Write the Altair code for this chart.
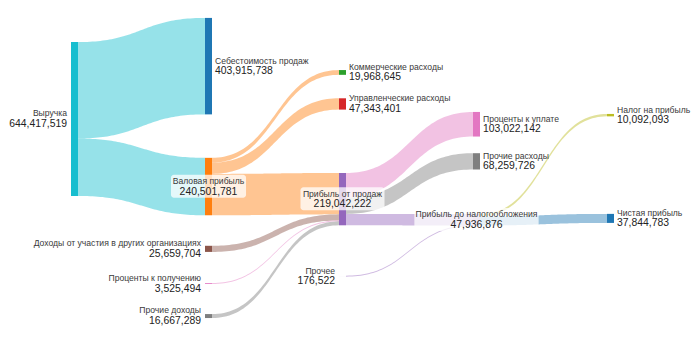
import altair as alt
import pandas as pd
import numpy as np

# ------------------------------------------------------------------ data
node_names = [
    "Выручка", "Себестоимость продаж", "Валовая прибыль",
    "Коммерческие расходы", "Управленческие расходы", "Прибыль от продаж",
    "Доходы от участия в других организациях", "Проценты к получению",
    "Прочие доходы", "Проценты к уплате", "Прочие расходы", "Прочее",
    "Прибыль до налогообложения", "Налог на прибыль", "Чистая прибыль",
]
link_source = [
    "Выручка", "Выручка",
    "Валовая прибыль", "Валовая прибыль", "Валовая прибыль",
    "Доходы от участия в других организациях", "Проценты к получению", "Прочие доходы",
    "Прибыль от продаж", "Прибыль от продаж", "Прибыль от продаж",
    "Прочее",
    "Прибыль до налогообложения", "Прибыль до налогообложения",
]
link_target = [
    "Себестоимость продаж", "Валовая прибыль",
    "Коммерческие расходы", "Управленческие расходы", "Прибыль от продаж",
    "Прибыль от продаж", "Прибыль от продаж", "Прибыль от продаж",
    "Проценты к уплате", "Прочие расходы", "Прибыль до налогообложения",
    "Прибыль до налогообложения",
    "Налог на прибыль", "Чистая прибыль",
]
link_value = [
    403915738, 240501781,
    19968645, 47343401, 173189735,
    25659704, 3525494, 16667289,
    103022142, 68259726, 47760354,
    176522,
    10092093, 37844783,
]

# ------------------------------------------- layout options (node centre, share of height)
node_y = {
    "Выручка": 0.340, "Себестоимость продаж": 0.189, "Валовая прибыль": 0.533,
    "Коммерческие расходы": 0.207, "Управленческие расходы": 0.297,
    "Прибыль от продаж": 0.569, "Доходы от участия в других организациях": 0.711,
    "Проценты к получению": 0.810, "Прочие доходы": 0.903,
    "Проценты к уплате": 0.355, "Прочие расходы": 0.461, "Прочее": 0.789,
    "Прибыль до налогообложения": 0.628, "Налог на прибыль": 0.329,
    "Чистая прибыль": 0.624,
}

# ------------------------------------------------------------------ style
node_colors = {
    "Выручка": "#17becf", "Себестоимость продаж": "#1f77b4", "Валовая прибыль": "#ff7f0e",
    "Коммерческие расходы": "#2ca02c", "Управленческие расходы": "#d62728",
    "Прибыль от продаж": "#9467bd", "Доходы от участия в других организациях": "#8c564b",
    "Проценты к получению": "#e377c2", "Прочие доходы": "#7f7f7f",
    "Проценты к уплате": "#e377c2", "Прочие расходы": "#7f7f7f", "Прочее": "#c5b0d5",
    "Прибыль до налогообложения": "#c5b0d5", "Налог на прибыль": "#bcbd22",
    "Чистая прибыль": "#1f77b4",
}
link_colors = [
    "#17becf", "#17becf",
    "#ff7f0e", "#ff7f0e", "#ff7f0e",
    "#8c564b", "#e377c2", "#7f7f7f",
    "#e377c2", "#7f7f7f", "#9467bd",
    "#9467bd",
    "#bcbd22", "#1f77b4",
]

W, H = 700, 350
LEFT, COL_STEP, NODE_W = 71, 134, 7
NODE_FILL = 0.471
FONT = "Liberation Sans"
NAME_SIZE, VALUE_SIZE = 8.6, 10.4

# ------------------------------------------------------------------ layout computation
idx = {n: i for i, n in enumerate(node_names)}
N = len(node_names)
out_links = [[] for _ in range(N)]
in_links = [[] for _ in range(N)]
for k, (s, t) in enumerate(zip(link_source, link_target)):
    out_links[idx[s]].append(k)
    in_links[idx[t]].append(k)

node_val = [max(sum(link_value[k] for k in out_links[i]),
                sum(link_value[k] for k in in_links[i])) for i in range(N)]

depth = [0] * N
current, d = set(range(N)), 0
while current:
    nxt = set()
    for i in current:
        depth[i] = d
        for k in out_links[i]:
            nxt.add(idx[link_target[k]])
    current, d = nxt, d + 1

column = []
for i in range(N):
    if in_links[i]:
        column.append(depth[i])
    elif out_links[i]:
        column.append(min(depth[idx[link_target[k]]] for k in out_links[i]) - 1)
    else:
        column.append(0)

col_sums = {}
for i in range(N):
    col_sums[column[i]] = col_sums.get(column[i], 0) + node_val[i]
SPAN = max(col_sums.values()) / NODE_FILL        # value units covered by the plot height
PX = H / SPAN                                    # pixels per value unit

nx0 = [LEFT + column[i] * COL_STEP for i in range(N)]
nx1 = [x + NODE_W for x in nx0]
nyc = [node_y[node_names[i]] * SPAN for i in range(N)]
ny0 = [nyc[i] - node_val[i] / 2 for i in range(N)]
ny1 = [nyc[i] + node_val[i] / 2 for i in range(N)]

src_off, tgt_off = {}, {}
for i in range(N):
    y = ny0[i]
    for k in sorted(out_links[i], key=lambda k: (nyc[idx[link_target[k]]], k)):
        src_off[k] = y
        y += link_value[k]
    y = ny0[i]
    for k in sorted(in_links[i], key=lambda k: (nyc[idx[link_source[k]]], k)):
        tgt_off[k] = y
        y += link_value[k]

rows = []
ts = np.linspace(0, 1, 61)
min_w = 1.0 / PX
for k in range(len(link_value)):
    s, t = idx[link_source[k]], idx[link_target[k]]
    xs, xt = nx1[s], nx0[t]
    xm = (xs + xt) / 2
    v = link_value[k]
    thick = max(v, min_w)
    ys = src_off[k] + v / 2 - thick / 2
    yt = tgt_off[k] + v / 2 - thick / 2
    for tt in ts:
        a = (1 - tt) ** 3 + 3 * (1 - tt) ** 2 * tt
        b = 1 - a
        xx = (1 - tt) ** 3 * xs + 3 * (1 - tt) ** 2 * tt * xm + 3 * (1 - tt) * tt ** 2 * xm + tt ** 3 * xt
        top = ys * a + yt * b
        rows.append({"link": k, "x": float(xx), "y": float(top), "y2": float(top + thick),
                     "color": link_colors[k]})
links_df = pd.DataFrame(rows)

nodes_df = pd.DataFrame({
    "name": node_names, "x": nx0, "x2": nx1, "y": ny0, "y2": ny1,
    "color": [node_colors[n] for n in node_names],
})


def text_w(s, size, em):
    return len(s) * size * em


lab_rows = []
for i in range(N):
    name = node_names[i]
    val = f"{node_val[i]:,}"
    if in_links[i] and out_links[i]:
        pos, xa = "center", (nx0[i] + nx1[i]) / 2
    elif out_links[i]:
        pos, xa = "right", nx0[i] - 4
    else:
        pos, xa = "left", nx1[i] + 3
    bw = max(text_w(name, NAME_SIZE, 0.52), text_w(val, VALUE_SIZE, 0.56)) + 8
    lab_rows.append({"name": name, "val": val, "align": pos, "x": xa, "y": nyc[i],
                     "bx": xa - bw / 2, "bx2": xa + bw / 2,
                     "by": nyc[i] - 11.8 / PX, "by2": nyc[i] + 11.2 / PX})
labels_df = pd.DataFrame(lab_rows)

xs_ = alt.Scale(domain=[0, W], range=[0, W], nice=False, zero=False)
ys_ = alt.Scale(domain=[0, SPAN], range=[0, H], nice=False, zero=False)
X = lambda f: alt.X(f, type="quantitative", scale=xs_, axis=None)
Y = lambda f: alt.Y(f, type="quantitative", scale=ys_, axis=None, stack=None)

link_layer = alt.Chart(links_df).mark_area(opacity=0.45).encode(
    x=X("x"), y=Y("y"), y2="y2", detail="link:N",
    color=alt.Color("color:N", scale=None),
)
node_layer = alt.Chart(nodes_df).mark_rect().encode(
    x=X("x"), x2="x2", y=Y("y"), y2="y2", color=alt.Color("color:N", scale=None),
)
box_layer = alt.Chart(labels_df).transform_filter(alt.datum.align == "center").mark_rect(
    color="white", opacity=0.75, cornerRadius=3
).encode(x=X("bx"), x2="bx2", y=Y("by"), y2="by2")

text_layers = []
for al in ["left", "right", "center"]:
    base = alt.Chart(labels_df).transform_filter(alt.datum.align == al)
    text_layers.append(base.mark_text(align=al, baseline="middle", dy=-5.6, font=FONT,
                                      fontSize=NAME_SIZE, color="#3a3a3a").encode(
        x=X("x"), y=Y("y"), text="name:N"))
    text_layers.append(base.mark_text(align=al, baseline="middle", dy=5.0, font=FONT,
                                      fontSize=VALUE_SIZE, color="#222222").encode(
        x=X("x"), y=Y("y"), text="val:N"))

chart = alt.layer(link_layer, node_layer, box_layer, *text_layers).properties(
    width=W, height=H, padding=0, autosize=alt.AutoSizeParams(type="none"),
).configure_view(strokeWidth=0)

chart.save("out.html", embed_options={"renderer": "svg", "actions": False})
